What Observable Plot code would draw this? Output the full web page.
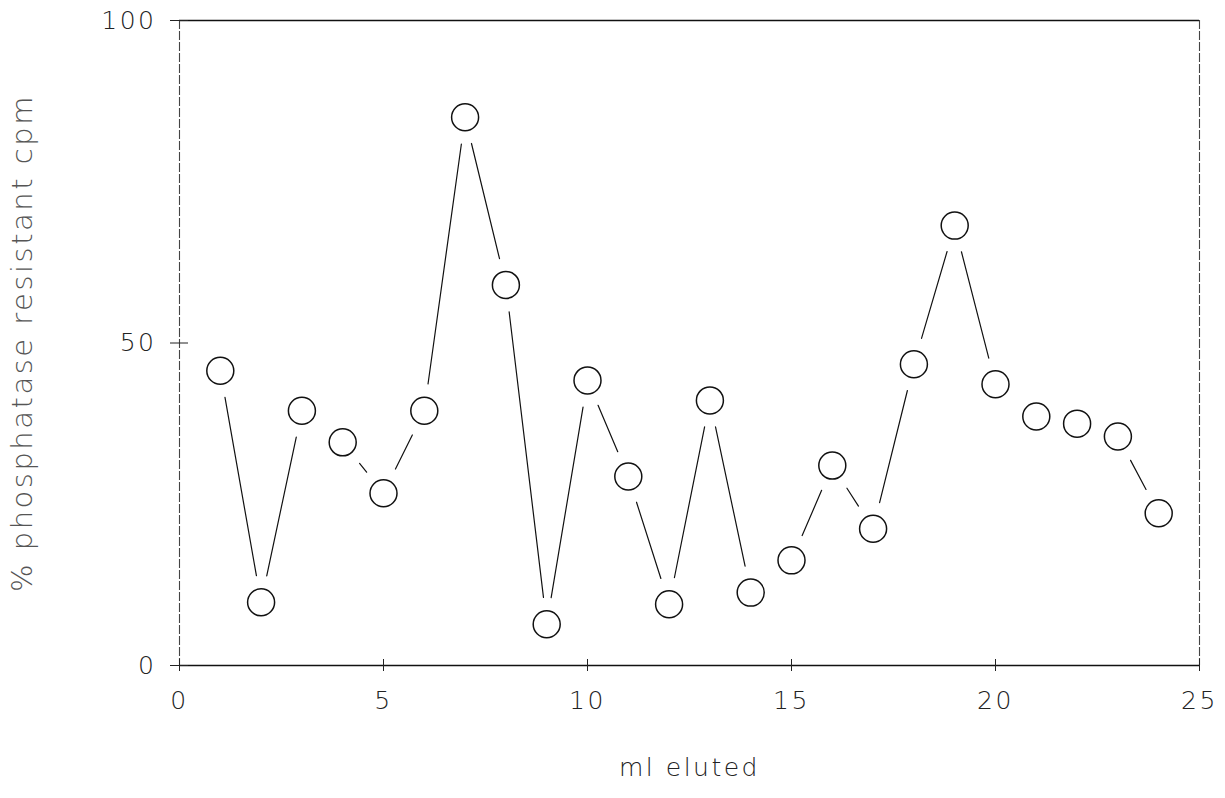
<!DOCTYPE html>
<html><head><meta charset="utf-8">
<script src="https://cdn.jsdelivr.net/npm/d3@7"></script>
<script src="https://cdn.jsdelivr.net/npm/@observablehq/plot@0.6"></script>
<style>body{margin:0;background:#fff} svg text{letter-spacing:2.5px}</style>
</head><body><div id="chart"></div>
<script>
const mlEluted = [1,2,3,4,5,6,7,8,9,10,11,12,13,14,15,16,17,18,19,20,21,22,23,24];
const resistantPct = [45.7,9.8,39.5,34.6,26.7,39.5,85,59,6.4,44.2,29.3,9.5,41.1,11.3,16.3,31,21.2,46.7,68.2,43.6,38.6,37.5,35.5,23.6];
const xTicks = [0,5,10,15,20,25];
const yTicks = [0,50,100];
const xLabel = "ml eluted";
const yLabel = "% phosphatase resistant cpm";

const points = mlEluted.map((x, i) => ({x, y: resistantPct[i]}));
const segments = points.slice(1).map((p, i) => ({x1: points[i].x, y1: points[i].y, x2: p.x, y2: p.y}));
const font = "'DejaVu Sans ExtraLight', 'DejaVu Sans', sans-serif";

const chart = Plot.plot({
  width: 1225, height: 798,
  marginTop: 20, marginBottom: 133, marginLeft: 179, marginRight: 26,
  x: {domain: [0, 25]},
  y: {domain: [0, 100]},
  style: {fontFamily: font, fontSize: "22px", color: "#333", background: "#fff"},
  marks: [
    Plot.ruleY([0, 100], {stroke: "#111", strokeWidth: 1.3}),
    Plot.ruleX([0, 25], {stroke: "#444", strokeWidth: 1.1, strokeDasharray: "9,2"}),
    Plot.axisY({ticks: yTicks, tickSize: 9, tickPadding: 14, label: null, stroke: "#222",
      fontSize: 25, fontWeight: 200, fill: "#222"}),
    Plot.axisY({ticks: yTicks, tickSize: -9, text: null, label: null, stroke: "#222"}),
    Plot.axisX({ticks: xTicks, tickSize: 6, tickPadding: 20, label: null, stroke: "#222",
      fontSize: 25, fontWeight: 200, fill: "#222"}),
    Plot.axisX({ticks: xTicks, tickSize: -6, text: null, label: null, stroke: "#222"}),
    Plot.arrow(segments, {x1: "x1", y1: "y1", x2: "x2", y2: "y2", headLength: 0, bend: 0,
      insetStart: 27, insetEnd: 27, stroke: "#111", strokeWidth: 1.2}),
    Plot.dot(points, {x: "x", y: "y", r: 13.5, stroke: "#111", strokeWidth: 1.5, fill: "white"}),
    Plot.text([yLabel], {text: d => d, frameAnchor: "left", textAnchor: "middle", rotate: -90, dx: -157,
      fontSize: 29, fontWeight: 200, fill: "#555", style: "letter-spacing:3.5px"}),
    Plot.text([xLabel], {text: d => d, frameAnchor: "bottom", textAnchor: "middle", dy: 110,
      fontSize: 25, fontWeight: 200, fill: "#222"})
  ]
});
document.getElementById("chart").append(chart);
</script>
</body></html>
